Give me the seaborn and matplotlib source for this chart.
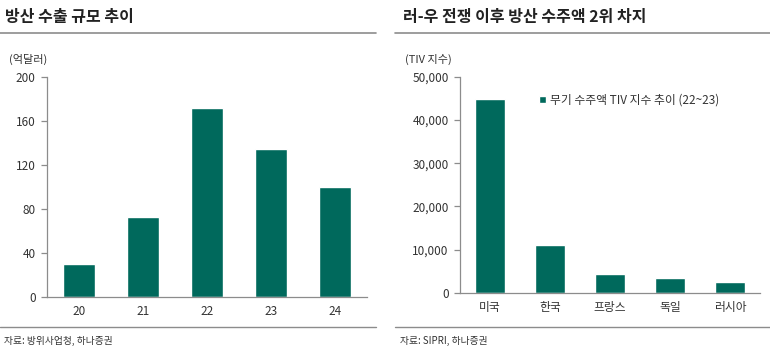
import pandas as pd
import matplotlib.pyplot as plt
import seaborn as sns
from matplotlib.lines import Line2D
from matplotlib.ticker import FuncFormatter

sns.set_theme(style="white")
plt.rcParams['font.family'] = ['Noto Sans CJK KR', 'DejaVu Sans']

# data
years = ["20", "21", "22", "23", "24"]
exports = [30, 73, 172, 135, 100]

countries = ["미국", "한국", "프랑스", "독일", "러시아"]
tiv = [44800, 11000, 4400, 3500, 2500]

bar_color = "#00695C"
axis_color = "#8c8c8c"
text_color = "#333333"

fig = plt.figure(figsize=(7.7, 3.52), dpi=100)


def style_axis(ax, n):
    ax.set_xlim(-0.5, n - 0.5)
    for s in ["top", "right"]:
        ax.spines[s].set_visible(False)
    for s in ["left", "bottom"]:
        ax.spines[s].set_color(axis_color)
        ax.spines[s].set_linewidth(0.9)
    ax.set_xlabel("")
    ax.set_ylabel("")
    ax.tick_params(axis="x", which="major", length=0, pad=6, labelsize=8.5, colors=text_color)
    ax.set_xticks([i - 0.5 for i in range(n + 1)], minor=True)
    ax.tick_params(axis="x", which="minor", length=4, color=axis_color, width=0.9)
    ax.tick_params(axis="y", length=4, color=axis_color, width=0.9, labelsize=8.5,
                   colors=text_color, pad=4, left=True)
    for lbl in ax.get_yticklabels():
        lbl.set_color(text_color)


# left chart
ax1 = fig.add_axes([0.061, 0.156, 0.4156, 0.625])
df1 = pd.DataFrame({"year": years, "value": exports})
sns.barplot(data=df1, x="year", y="value", color=bar_color, width=0.5,
            saturation=1, ax=ax1)
ax1.set_ylim(0, 200)
ax1.set_yticks([0, 40, 80, 120, 160, 200])
style_axis(ax1, len(years))

# right chart
ax2 = fig.add_axes([0.597, 0.168, 0.390, 0.614])
df2 = pd.DataFrame({"country": countries, "value": tiv})
sns.barplot(data=df2, x="country", y="value", color=bar_color, width=0.5,
            saturation=1, ax=ax2, label="무기 수주액 TIV 지수 추이 (22~23)")
ax2.set_ylim(0, 50000)
ax2.set_yticks([0, 10000, 20000, 30000, 40000, 50000])
ax2.yaxis.set_major_formatter(FuncFormatter(lambda v, p: f"{int(v):,}"))
style_axis(ax2, len(countries))
ax2.legend(loc="upper left", bbox_to_anchor=(0.23, 0.97), frameon=False,
           fontsize=8.5, handlelength=0.6, handleheight=0.6, handletextpad=0.3,
           labelcolor=text_color)

# titles, rules and notes
fig.text(0.007, 0.952, "방산 수출 규모 추이", fontsize=11.5, fontweight="bold",
         color="#222222", va="center")
fig.text(0.523, 0.952, "러-우 전쟁 이후 방산 수주액 2위 차지", fontsize=11.5,
         fontweight="bold", color="#222222", va="center")
fig.text(0.012, 0.830, "(억달러)", fontsize=8, color=text_color, va="center")
fig.text(0.526, 0.830, "(TIV 지수)", fontsize=8, color=text_color, va="center")

for x0, x1 in [(0.0, 0.488), (0.513, 1.0)]:
    fig.add_artist(Line2D([x0, x1], [0.905, 0.905], color="#8c8c8c", lw=1.2))
    fig.add_artist(Line2D([x0, x1], [0.070, 0.070], color="#8c8c8c", lw=1.0))

fig.text(0.005, 0.030, "자료: 방위사업청, 하나증권", fontsize=7, color=text_color, va="center")
fig.text(0.520, 0.030, "자료: SIPRI, 하나증권", fontsize=7, color=text_color, va="center")

plt.savefig("out.png", dpi=100)
